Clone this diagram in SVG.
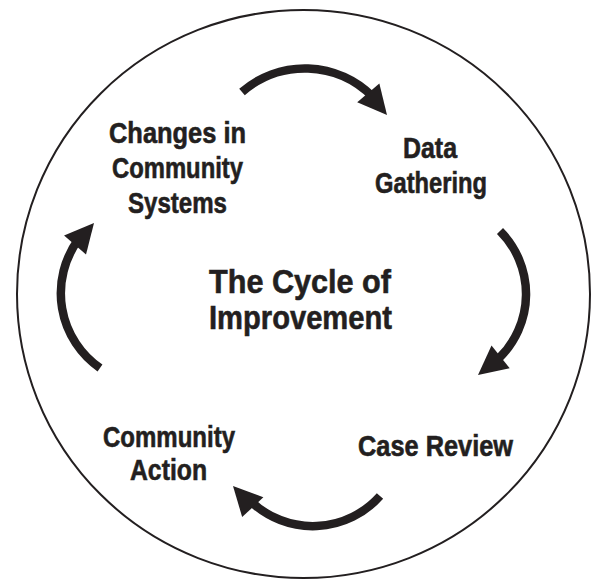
<svg xmlns="http://www.w3.org/2000/svg" xmlns:xlink="http://www.w3.org/1999/xlink" width="594" height="579" viewBox="0 0 594 579">
  <style>
    .label { font-family: "Liberation Sans", Arial, sans-serif; font-weight: bold; fill: #231f20; stroke: #231f20; stroke-width: 0.6; text-anchor: middle; }
    .node { font-size: 29px; }
    .title { font-size: 34px; }
    .arc { fill: none; stroke: #231f20; stroke-width: 8.5; stroke-linecap: butt; }
    .head { fill: #231f20; }
  </style>
  <defs>
    <!-- arrowhead pointing along +x, tip at origin -->
    <path id="head" d="M0,0 L-29,-14.5 L-29,14.5 Z"/>
  </defs>

  <rect x="0" y="0" width="594" height="579" fill="#ffffff"/>

  <!-- outer ring -->
  <ellipse id="ring" cx="303.5" cy="294" rx="286.5" ry="284" fill="none" stroke="#231f20" stroke-width="2"/>

  <g id="connectors">
    <path class="arc" d="M242,92 A95.5,95.5 0 0,1 372.5,96.5"/>
    <use class="head" xlink:href="#head" href="#head" transform="translate(387,115) rotate(49.8)"/>

    <path class="arc" d="M500,231 A89.5,89.5 0 0,1 498.7,358.5"/>
    <use class="head" xlink:href="#head" href="#head" transform="translate(478,375) rotate(141.2)"/>

    <path class="arc" d="M380,496 A90,90 0 0,1 251.3,501.9"/>
    <use class="head" xlink:href="#head" href="#head" transform="translate(233,486) rotate(-133)"/>

    <path class="arc" d="M100,368 A91,91 0 0,1 78.3,239.6"/>
    <use class="head" xlink:href="#head" href="#head" transform="translate(94,223) rotate(-49.2)"/>
  </g>

  <!-- condensed lettering: each line is fitted to its width -->
  <g id="changes-in-community-systems">
    <text class="label node" x="177.5" y="143" textLength="137" lengthAdjust="spacingAndGlyphs">Changes in</text>
    <text class="label node" x="177.5" y="178.3" textLength="131" lengthAdjust="spacingAndGlyphs">Community</text>
    <text class="label node" x="177.5" y="212.5" textLength="99" lengthAdjust="spacingAndGlyphs">Systems</text>
  </g>

  <g id="data-gathering">
    <text class="label node" x="430" y="158.3" textLength="54" lengthAdjust="spacingAndGlyphs">Data</text>
    <text class="label node" x="431" y="193.3" textLength="112" lengthAdjust="spacingAndGlyphs">Gathering</text>
  </g>

  <g id="case-review">
    <text class="label node" x="435.5" y="455.7" textLength="155" lengthAdjust="spacingAndGlyphs">Case Review</text>
  </g>

  <g id="community-action">
    <text class="label node" x="169" y="446.7" textLength="132" lengthAdjust="spacingAndGlyphs">Community</text>
    <text class="label node" x="168.5" y="480" textLength="77" lengthAdjust="spacingAndGlyphs">Action</text>
  </g>

  <g id="cycle-title">
    <text class="label title" x="300" y="293.3" textLength="182" lengthAdjust="spacingAndGlyphs">The Cycle of</text>
    <text class="label title" x="300.5" y="329.3" textLength="183" lengthAdjust="spacingAndGlyphs">Improvement</text>
  </g>
</svg>
